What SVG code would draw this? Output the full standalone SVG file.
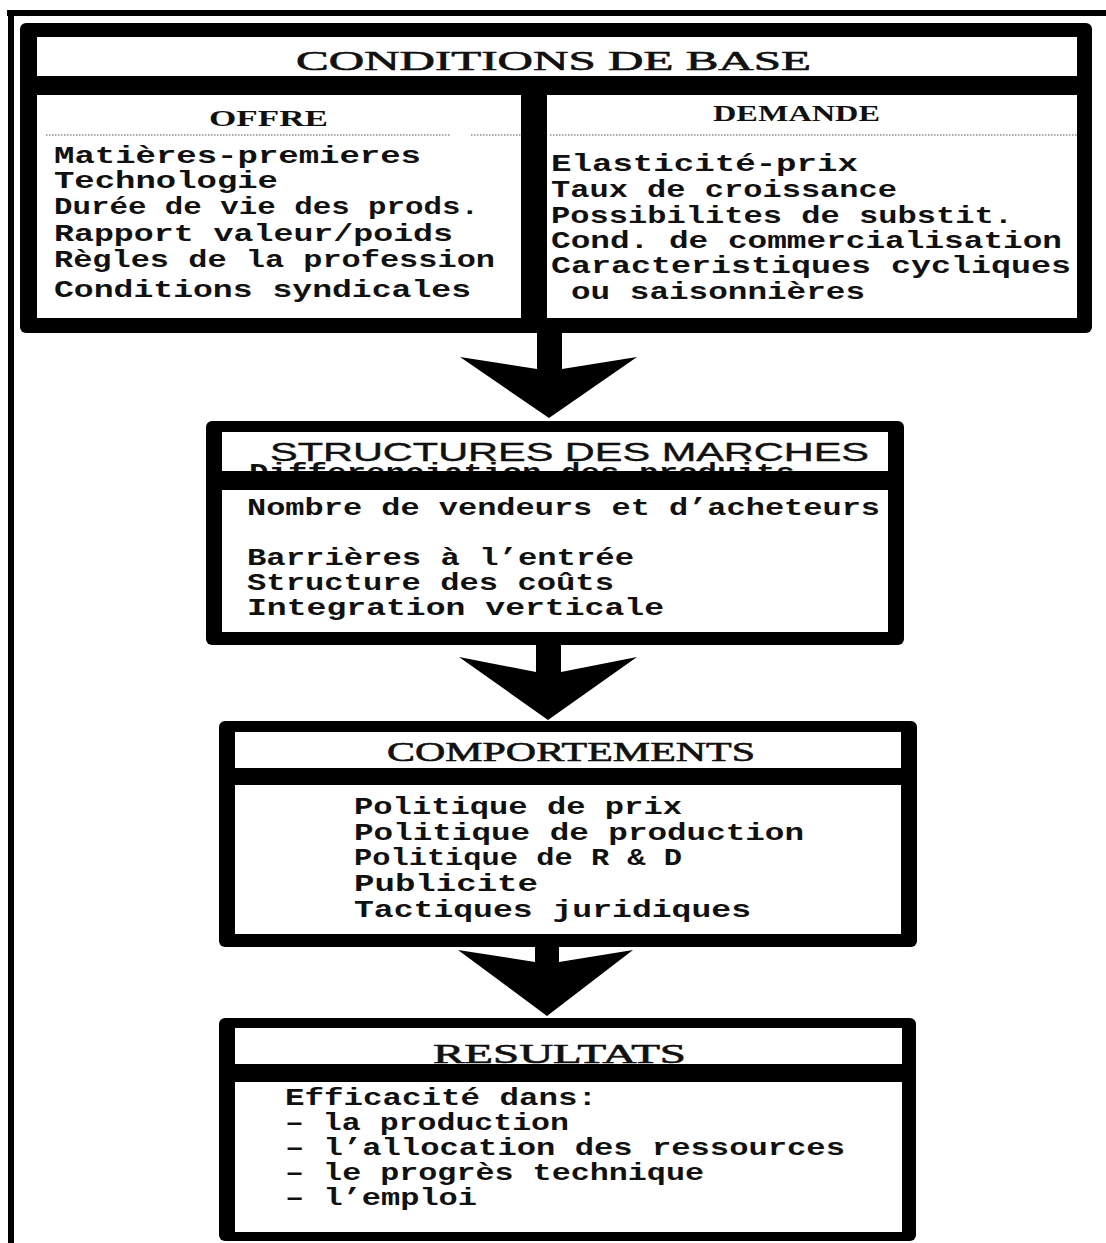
<svg xmlns="http://www.w3.org/2000/svg" width="1106" height="1243" viewBox="0 0 1106 1243">
<style>
.bk{fill:#000}
.wh{fill:#fff}
.body{font-family:"Liberation Mono","DejaVu Sans Mono",monospace;font-weight:bold;font-size:24px;fill:#111}
.ttl{font-family:"Liberation Serif","DejaVu Serif",serif;font-size:27px;fill:#111;stroke:#111;stroke-width:0.6}
.sub{font-family:"Liberation Serif","DejaVu Serif",serif;font-weight:bold;font-size:23px;fill:#111}
.sans{font-family:"Liberation Sans","DejaVu Sans",sans-serif;font-size:26px;fill:#111;stroke:#111;stroke-width:0.4}
.dot{stroke:#555;stroke-width:1.2;stroke-dasharray:1.5 1.5;fill:none}
.arrow{fill:#000}
</style>
<rect x="0" y="0" width="1106" height="1243" fill="#fff"/>
<g id="frame">
  <rect x="7" y="10" width="1099" height="6" class="bk"/>
  <rect x="8" y="10" width="6" height="1233" class="bk"/>
</g>
<g id="node-conditions">
  <rect x="20" y="23" width="1072" height="310" rx="6" class="bk"/>
  <rect x="37" y="37" width="1040" height="39" class="wh"/>
  <rect x="37" y="95" width="484" height="223" class="wh"/>
  <rect x="547" y="95" width="530" height="223" class="wh"/>
  <text x="296" y="70" class="ttl" textLength="515" lengthAdjust="spacingAndGlyphs">CONDITIONS DE BASE</text>
  <text x="209" y="126" class="sub" textLength="119" lengthAdjust="spacingAndGlyphs">OFFRE</text>
  <text x="713" y="121" class="sub" font-size="24" textLength="167" lengthAdjust="spacingAndGlyphs">DEMANDE</text>
  <line x1="46" y1="135" x2="450" y2="135" class="dot"/>
  <line x1="471" y1="135" x2="521" y2="135" class="dot"/>
  <line x1="550" y1="135" x2="1077" y2="135" class="dot"/>
  <text x="54" y="163" class="body" textLength="367" lengthAdjust="spacingAndGlyphs">Matières-premieres</text>
  <text x="54" y="188" class="body" textLength="224" lengthAdjust="spacingAndGlyphs">Technologie</text>
  <text x="54" y="214" class="body" textLength="425" lengthAdjust="spacingAndGlyphs">Durée de vie des prods.</text>
  <text x="54" y="241" class="body" textLength="399" lengthAdjust="spacingAndGlyphs">Rapport valeur/poids</text>
  <text x="54" y="267" class="body" textLength="441" lengthAdjust="spacingAndGlyphs">Règles de la profession</text>
  <text x="54" y="297" class="body" textLength="417" lengthAdjust="spacingAndGlyphs">Conditions syndicales</text>
  <text x="551" y="171" class="body" textLength="307" lengthAdjust="spacingAndGlyphs">Elasticité-prix</text>
  <text x="551" y="197" class="body" textLength="346" lengthAdjust="spacingAndGlyphs">Taux de croissance</text>
  <text x="551" y="223" class="body" textLength="462" lengthAdjust="spacingAndGlyphs">Possibilites de substit.</text>
  <text x="551" y="248" class="body" textLength="511" lengthAdjust="spacingAndGlyphs">Cond. de commercialisation</text>
  <text x="551" y="273" class="body" textLength="520" lengthAdjust="spacingAndGlyphs">Caracteristiques cycliques</text>
  <text x="571" y="299" class="body" textLength="294" lengthAdjust="spacingAndGlyphs">ou saisonnières</text>
</g>
<g id="node-structures">
  <rect x="206" y="421" width="698" height="224" rx="6" class="bk"/>
  <rect x="222" y="432" width="666" height="39" class="wh"/>
  <text x="249" y="480" class="body" textLength="546" lengthAdjust="spacingAndGlyphs">Differenciation des produits</text>
  <rect x="222" y="471" width="666" height="19" class="bk"/>
  <rect x="222" y="490" width="666" height="142" class="wh"/>
  <text x="270" y="461" class="sans" textLength="599" lengthAdjust="spacingAndGlyphs">STRUCTURES DES MARCHES</text>
  <text x="247" y="515" class="body" textLength="633" lengthAdjust="spacingAndGlyphs">Nombre de vendeurs et d’acheteurs</text>
  <text x="247" y="565" class="body" textLength="387" lengthAdjust="spacingAndGlyphs">Barrières à l’entrée</text>
  <text x="247" y="590" class="body" textLength="367" lengthAdjust="spacingAndGlyphs">Structure des coûts</text>
  <text x="247" y="615" class="body" textLength="417" lengthAdjust="spacingAndGlyphs">Integration verticale</text>
</g>
<g id="node-comportements">
  <rect x="219" y="721" width="698" height="226" rx="6" class="bk"/>
  <rect x="235" y="732" width="666" height="36" class="wh"/>
  <rect x="235" y="785" width="666" height="149" class="wh"/>
  <text x="387" y="761" class="ttl" textLength="368" lengthAdjust="spacingAndGlyphs">COMPORTEMENTS</text>
  <text x="354" y="814" class="body" textLength="328" lengthAdjust="spacingAndGlyphs">Politique de prix</text>
  <text x="354" y="840" class="body" textLength="450" lengthAdjust="spacingAndGlyphs">Politique de production</text>
  <text x="354" y="865" class="body" textLength="328" lengthAdjust="spacingAndGlyphs">Politique de R &amp; D</text>
  <text x="354" y="891" class="body" textLength="184" lengthAdjust="spacingAndGlyphs">Publicite</text>
  <text x="354" y="917" class="body" textLength="397" lengthAdjust="spacingAndGlyphs">Tactiques juridiques</text>
</g>
<g id="node-resultats">
  <rect x="219" y="1018" width="697" height="223" rx="6" class="bk"/>
  <rect x="235" y="1028" width="667" height="36" class="wh"/>
  <rect x="235" y="1082" width="667" height="150" class="wh"/>
  <text x="433" y="1063" class="ttl" textLength="253" lengthAdjust="spacingAndGlyphs">RESULTATS</text>
  <text x="285" y="1105" class="body" textLength="312" lengthAdjust="spacingAndGlyphs">Efficacité dans:</text>
  <text x="285" y="1130" class="body" textLength="284" lengthAdjust="spacingAndGlyphs">– la production</text>
  <text x="285" y="1155" class="body" textLength="560" lengthAdjust="spacingAndGlyphs">– l’allocation des ressources</text>
  <text x="285" y="1180" class="body" textLength="419" lengthAdjust="spacingAndGlyphs">– le progrès technique</text>
  <text x="285" y="1205" class="body" textLength="192" lengthAdjust="spacingAndGlyphs">– l’emploi</text>
</g>
<g id="connectors">
  <polygon class="arrow" points="537,331 537,369 460,357 549,418 637,357 562,369 562,331"/>
  <polygon class="arrow" points="536,643 536,672 459,657 548,720 637,657 561,672 561,643"/>
  <polygon class="arrow" points="535,945 535,962 458,950 547,1016 633,950 559,962 559,945"/>
</g>
</svg>
